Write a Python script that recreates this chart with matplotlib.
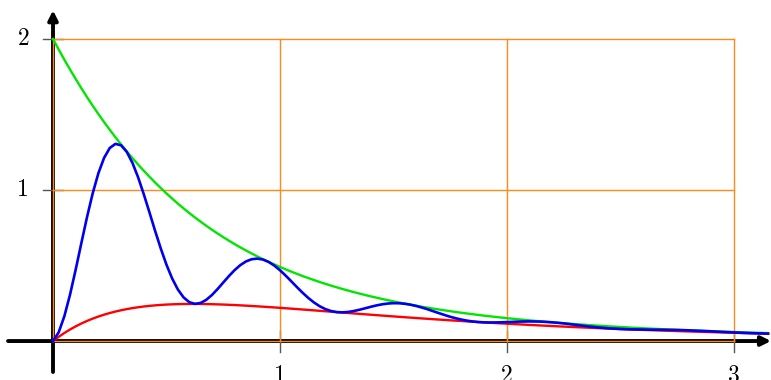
import numpy as np
from matplotlib import pyplot as plt

# sample points: step 0.025 up to x=2, then 0.05
x = [round(0.025 * i, 3) for i in range(81)] + [round(2.05 + 0.05 * i, 2) for i in range(23)]

red = [0.0000, 0.0279, 0.0533, 0.0763, 0.0972, 0.1161, 0.1331, 0.1484, 0.1622, 0.1745,
       0.1855, 0.1952, 0.2038, 0.2114, 0.2180, 0.2237, 0.2286, 0.2328, 0.2362, 0.2391,
       0.2414, 0.2431, 0.2444, 0.2452, 0.2456, 0.2457, 0.2454, 0.2448, 0.2439, 0.2428,
       0.2415, 0.2399, 0.2382, 0.2363, 0.2343, 0.2321, 0.2298, 0.2274, 0.2249, 0.2224,
       0.2197, 0.2171, 0.2143, 0.2115, 0.2087, 0.2059, 0.2030, 0.2001, 0.1972, 0.1943,
       0.1914, 0.1885, 0.1856, 0.1827, 0.1799, 0.1770, 0.1742, 0.1714, 0.1686, 0.1658,
       0.1630, 0.1603, 0.1576, 0.1550, 0.1523, 0.1497, 0.1472, 0.1446, 0.1421, 0.1397,
       0.1372, 0.1348, 0.1325, 0.1301, 0.1278, 0.1256, 0.1233, 0.1211, 0.1190, 0.1168,
       0.1147,
       0.1107, 0.1067, 0.1029, 0.0992, 0.0956, 0.0921, 0.0888, 0.0856, 0.0825, 0.0795,
       0.0766, 0.0738, 0.0711, 0.0685, 0.0660, 0.0636, 0.0612, 0.0590, 0.0568, 0.0547,
       0.0527, 0.0508, 0.0489]

green = [2.0000, 1.9304, 1.8630, 1.7977, 1.7347, 1.6737, 1.6147, 1.5578, 1.5028, 1.4498,
         1.3986, 1.3491, 1.3014, 1.2555, 1.2112, 1.1684, 1.1273, 1.0876, 1.0493, 1.0126,
         0.9772, 0.9430, 0.9101, 0.8785, 0.8480, 0.8187, 0.7905, 0.7633, 0.7371, 0.7119,
         0.6878, 0.6644, 0.6420, 0.6204, 0.5997, 0.5797, 0.5604, 0.5419, 0.5240, 0.5070,
         0.4904, 0.4746, 0.4592, 0.4445, 0.4303, 0.4167, 0.4035, 0.3908, 0.3786, 0.3669,
         0.3556, 0.3447, 0.3341, 0.3240, 0.3143, 0.3049, 0.2958, 0.2871, 0.2786, 0.2705,
         0.2626, 0.2550, 0.2477, 0.2407, 0.2338, 0.2272, 0.2210, 0.2148, 0.2088, 0.2032,
         0.1976, 0.1922, 0.1872, 0.1821, 0.1773, 0.1726, 0.1680, 0.1637, 0.1595, 0.1553,
         0.1513,
         0.1439, 0.1367, 0.1300, 0.1238, 0.1178, 0.1122, 0.1070, 0.1021, 0.0974, 0.0930,
         0.0888, 0.0848, 0.0811, 0.0775, 0.0742, 0.0710, 0.0679, 0.0651, 0.0623, 0.0597,
         0.0572, 0.0549, 0.0526]

blue = [0.0000, 0.0575, 0.1641, 0.3072, 0.4736, 0.6493, 0.8215, 0.9787, 1.1115, 1.2127,
        1.2779, 1.3054, 1.2959, 1.2524, 1.1796, 1.0837, 0.9716, 0.8514, 0.7285, 0.6116,
        0.5049, 0.4138, 0.3414, 0.2892, 0.2576, 0.2459, 0.2518, 0.2725, 0.3046, 0.3442,
        0.3873, 0.4301, 0.4695, 0.5024, 0.5270, 0.5416, 0.5457, 0.5395, 0.5236, 0.4995,
        0.4686, 0.4332, 0.3950, 0.3563, 0.3190, 0.2848, 0.2550, 0.2302, 0.2114, 0.1986,
        0.1916, 0.1898, 0.1925, 0.1986, 0.2071, 0.2168, 0.2267, 0.2358, 0.2431, 0.2482,
        0.2506, 0.2501, 0.2466, 0.2407, 0.2321, 0.2217, 0.2104, 0.1974, 0.1847, 0.1724,
        0.1606, 0.1505, 0.1418, 0.1346, 0.1293, 0.1257, 0.1236, 0.1228, 0.1231, 0.1241,
        0.1255,
        0.1285, 0.1299, 0.1286, 0.1238, 0.1169, 0.1075, 0.0984, 0.0903, 0.0839, 0.0796,
        0.0770, 0.0757, 0.0750, 0.0743, 0.0730, 0.0709, 0.0677, 0.0643, 0.0605, 0.0568,
        0.0536, 0.0510, 0.0489]

xticks = [1, 2, 3]
yticks = [1, 2]

fig = plt.figure(figsize=(7.71, 3.8), dpi=100)
ax = fig.add_axes([0, 0, 1, 1])
ax.set_xlim(-0.2335, 3.163)
ax.set_ylim(-0.258, 2.258)
ax.axis('off')

# axes with arrows
arrow = dict(arrowstyle='-|>', color='black', lw=2.8, mutation_scale=14, shrinkA=0, shrinkB=0)
ax.annotate('', xy=(3.163, 0), xytext=(-0.198, 0), arrowprops=arrow, zorder=2)
ax.annotate('', xy=(0, 2.19), xytext=(0, -0.205), arrowprops=arrow, zorder=2)

# grid
grid_c = '#ff8a1a'
for xv in [0] + xticks:
    ax.plot([xv, xv], [0, 2], color=grid_c, lw=1, zorder=3)
for yv in [0] + yticks:
    ax.plot([0, 3], [yv, yv], color=grid_c, lw=1, zorder=3)

# ticks
for xv in xticks:
    ax.plot([xv, xv], [-0.072, 0.066], color='#555555', lw=1, zorder=2.5)
    ax.text(xv, -0.228, str(xv), ha='center', va='center', fontsize=17, family='cmr10')
for yv in yticks:
    ax.plot([-0.044, 0.044], [yv, yv], color='#555555', lw=1, zorder=2.5)
    ax.text(-0.105, yv, str(yv), ha='right', va='center', fontsize=17, family='cmr10')

# curves
ax.plot(x, green, color='#00e600', lw=1.7, zorder=4)
ax.plot(x, red, color='#ff0000', lw=1.7, zorder=5)
ax.plot(x, blue, color='#0000f0', lw=1.9, zorder=6)

fig.savefig('out.png', dpi=100)
